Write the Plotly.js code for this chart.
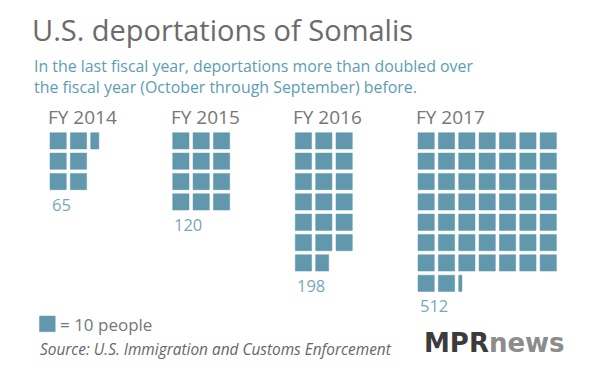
<!DOCTYPE html>
<html>
<head>
<meta charset="utf-8">
<script src="https://cdn.plot.ly/plotly-3.0.1.min.js"></script>
<style>html,body{margin:0;padding:0;background:#fff;}#chart{width:600px;height:373px;}</style>
</head>
<body>
<div id="chart"></div>
<script>
// ---- data ----
var years = ['FY 2014', 'FY 2015', 'FY 2016', 'FY 2017'];
var deportations = [65, 120, 198, 512];
var peoplePerSquare = 10;
var gridCols = [3, 3, 3, 7];
var gridRows = [3, null, null, null];
var fillOrder = ['column', 'row', 'row', 'row'];

// ---- layout constants (pixel space) ----
var panelLeft = [50, 172.7, 295.3, 418];
var gridTop = 132.7;
var pitch = 20.35;
var size = 16.3;
var sqColor = '#6198ad';
var font = 'Open Sans, Lato, sans-serif';

var xs = [], ys = [];
var annotations = [];
years.forEach(function (yr, i) {
  var n = deportations[i] / peoplePerSquare;
  var full = Math.floor(n + 1e-9);
  var frac = n - full;
  var count = frac > 1e-6 ? full + 1 : full;
  var maxRow = 0;
  for (var k = 0; k < count; k++) {
    var w = k < full ? 1 : frac;
    var r, c;
    if (fillOrder[i] === 'column') { c = Math.floor(k / gridRows[i]); r = k % gridRows[i]; }
    else { r = Math.floor(k / gridCols[i]); c = k % gridCols[i]; }
    maxRow = Math.max(maxRow, r);
    var x0 = panelLeft[i] + c * pitch, x1 = x0 + size * w;
    var y0 = gridTop + r * pitch, y1 = y0 + size;
    xs.push(x0, x1, x1, x0, x0, null);
    ys.push(y0, y0, y1, y1, y0, null);
  }
  var bottom = gridTop + maxRow * pitch + size;
  annotations.push({
    text: yr, x: panelLeft[i] - 4, y: 116.7, xref: 'x', yref: 'y',
    xanchor: 'left', yanchor: 'middle', showarrow: false,
    font: {family: font, size: 19, color: '#777777'}
  });
  annotations.push({
    text: String(deportations[i]), x: panelLeft[i] - 0.5, y: bottom + 14.5, xref: 'x', yref: 'y',
    xanchor: 'left', yanchor: 'middle', showarrow: false,
    font: {family: font, size: 16.5, color: '#78a7ba'}
  });
});

var subtitleLines = ['In the last fiscal year, deportations more than doubled over',
  'the fiscal year (October through September) before.'];
var subtitleY = [65.6, 86.5];
subtitleLines.forEach(function (t, j) {
  annotations.push({
    text: t, x: 32, y: subtitleY[j], xref: 'x', yref: 'y', xanchor: 'left', yanchor: 'middle', align: 'left',
    showarrow: false, font: {family: font, size: 15.9, color: '#5d9db4'}
  });
});
annotations.push({
  text: '= 10 people', x: 58, y: 324, xref: 'x', yref: 'y', xanchor: 'left', yanchor: 'middle',
  showarrow: false, font: {family: font, size: 17, color: '#777777'}
});
annotations.push({
  text: '<i>Source: U.S. Immigration and Customs Enforcement</i>', x: 38, y: 349, xref: 'x', yref: 'y',
  xanchor: 'left', yanchor: 'middle', showarrow: false,
  font: {family: font, size: 15.4, color: '#666666'}
});
annotations.push({
  text: '<b>MPR</b><b><span style="color:#8c8c8c">news</span></b>', x: 422, y: 342.5, xref: 'x', yref: 'y',
  xanchor: 'left', yanchor: 'middle', showarrow: false,
  font: {family: 'DejaVu Sans', size: 26, color: '#3b3b3b'}
});

var traces = [{
  type: 'scatter', mode: 'lines', x: xs, y: ys, fill: 'toself',
  fillcolor: sqColor, line: {color: sqColor, width: 0.5}, hoverinfo: 'skip', showlegend: false
}, {
  type: 'scatter', mode: 'lines', x: [39.5, 55.2, 55.2, 39.5, 39.5], y: [316, 316, 331.7, 331.7, 316],
  fill: 'toself', fillcolor: sqColor, line: {color: sqColor, width: 0.5}, hoverinfo: 'skip', showlegend: false
}];

var layout = {
  width: 600, height: 373,
  margin: {l: 0, r: 0, t: 0, b: 0},
  paper_bgcolor: '#ffffff', plot_bgcolor: '#ffffff',
  title: {text: 'U.S. deportations of Somalis', x: 32 / 600, xanchor: 'left', xref: 'paper',
    y: 1 - 31 / 373, yanchor: 'middle', yref: 'container',
    font: {family: font, size: 29, color: '#6b6b6b'}},
  xaxis: {range: [0, 600], visible: false, fixedrange: true},
  yaxis: {range: [373, 0], visible: false, fixedrange: true},
  annotations: annotations,
  showlegend: false
};
Plotly.newPlot('chart', traces, layout, {displayModeBar: false, staticPlot: true});
</script>
</body>
</html>
